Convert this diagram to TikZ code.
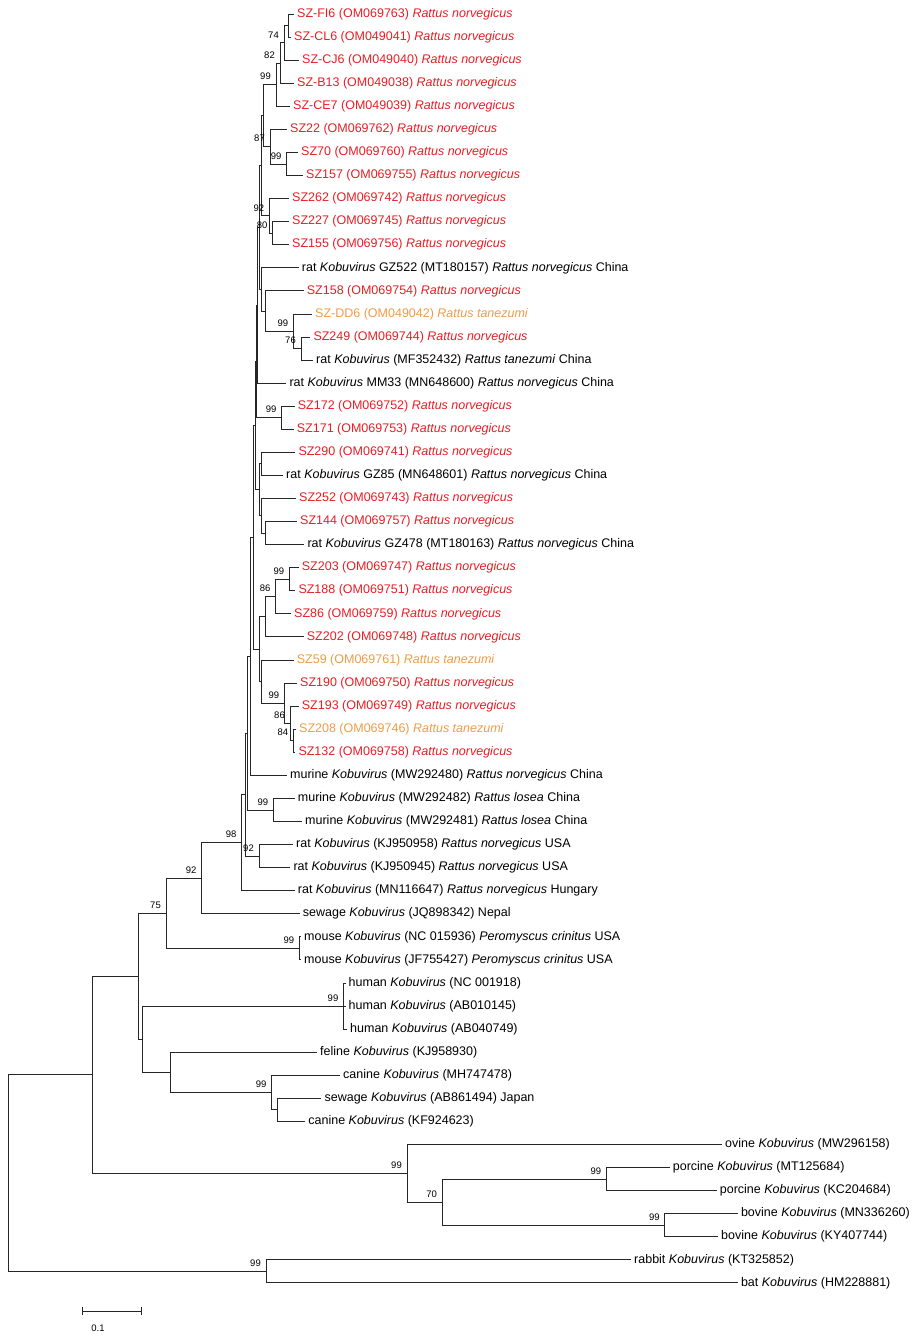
\documentclass[tikz,border=0pt]{standalone}
\usepackage{fontspec}
\setmainfont{Liberation Sans}
\usetikzlibrary{positioning}

\definecolor{szred}{RGB}{230,30,36}
\definecolor{szorange}{RGB}{238,156,72}

\newcommand{\kobu}{\textit{Kobuvirus}}
\newcommand{\rnorv}{\textit{Rattus norvegicus}}
\newcommand{\rtane}{\textit{Rattus tanezumi}}
\newcommand{\rlos}{\textit{Rattus losea}}
\newcommand{\pcrin}{\textit{Peromyscus crinitus}}

\tikzset{
  br/.style={line width=0.8pt, black!85},
  leaf/.style={anchor=west, inner xsep=3pt, inner ysep=0pt, font=\fontsize{12.5}{14}\selectfont},
  szr/.style={leaf, text=szred},
  szo/.style={leaf, text=szorange},
  bs/.style={anchor=south east, inner sep=0pt, xshift=-5pt, yshift=4.5pt, font=\fontsize{9.5}{10}\selectfont},
}

\begin{document}
\begin{tikzpicture}[x=1pt, y=-1pt]
	\useasboundingbox (0,0) rectangle (915,1339);
	
	% leaves
	\node[szr] (fi6)   at (294,14.00)   {SZ-FI6 (OM069763) \rnorv};
	\node[szr] (cl6)   at (291,37.07)   {SZ-CL6 (OM049041) \rnorv};
	\node[szr] (cj6)   at (299,60.14)   {SZ-CJ6 (OM049040) \rnorv};
	\node[szr] (b13)   at (294,83.21)   {SZ-B13 (OM049038) \rnorv};
	\node[szr] (ce7)   at (290,106.28)  {SZ-CE7 (OM049039) \rnorv};
	\node[szr] (sz22)  at (287,129.35)  {SZ22 (OM069762) \rnorv};
	\node[szr] (sz70)  at (298,152.42)  {SZ70 (OM069760) \rnorv};
	\node[szr] (sz157) at (303,175.49)  {SZ157 (OM069755) \rnorv};
	\node[szr] (sz262) at (289,198.56)  {SZ262 (OM069742) \rnorv};
	\node[szr] (sz227) at (289,221.63)  {SZ227 (OM069745) \rnorv};
	\node[szr] (sz155) at (289,244.70)  {SZ155 (OM069756) \rnorv};
	\node[leaf] (gz522) at (298.7,267.77) {rat \kobu{} GZ522 (MT180157) \rnorv{} China};
	\node[szr] (sz158) at (303.7,290.84) {SZ158 (OM069754) \rnorv};
	\node[szo] (dd6)   at (312,313.91)  {SZ-DD6 (OM049042) \rtane};
	\node[szr] (sz249) at (310.3,336.98) {SZ249 (OM069744) \rnorv};
	\node[leaf] (mf352) at (313,360.05)  {rat \kobu{} (MF352432) \rtane{} China};
	\node[leaf] (mm33) at (286.3,383.12) {rat \kobu{} MM33 (MN648600) \rnorv{} China};
	\node[szr] (sz172) at (294.7,406.19) {SZ172 (OM069752) \rnorv};
	\node[szr] (sz171) at (293.7,429.26) {SZ171 (OM069753) \rnorv};
	\node[szr] (sz290) at (295.3,452.33) {SZ290 (OM069741) \rnorv};
	\node[leaf] (gz85) at (283,475.40)   {rat \kobu{} GZ85 (MN648601) \rnorv{} China};
	\node[szr] (sz252) at (296,498.47)  {SZ252 (OM069743) \rnorv};
	\node[szr] (sz144) at (297,521.54)  {SZ144 (OM069757) \rnorv};
	\node[leaf] (gz478) at (304.3,544.61) {rat \kobu{} GZ478 (MT180163) \rnorv{} China};
	\node[szr] (sz203) at (298.7,567.68) {SZ203 (OM069747) \rnorv};
	\node[szr] (sz188) at (295.3,590.75) {SZ188 (OM069751) \rnorv};
	\node[szr] (sz86)  at (291,613.82)  {SZ86 (OM069759) \rnorv};
	\node[szr] (sz202) at (303.7,636.89) {SZ202 (OM069748) \rnorv};
	\node[szo] (sz59)  at (293.7,659.96) {SZ59 (OM069761) \rtane};
	\node[szr] (sz190) at (297,683.03)  {SZ190 (OM069750) \rnorv};
	\node[szr] (sz193) at (298.7,706.10) {SZ193 (OM069749) \rnorv};
	\node[szo] (sz208) at (296,729.17)  {SZ208 (OM069746) \rtane};
	\node[szr] (sz132) at (295.3,752.24) {SZ132 (OM069758) \rnorv};
	\node[leaf] (mw480) at (287,775.31)  {murine \kobu{} (MW292480) \rnorv{} China};
	\node[leaf] (mw482) at (294.7,798.38) {murine \kobu{} (MW292482) \rlos{} China};
	\node[leaf] (mw481) at (302,821.45)  {murine \kobu{} (MW292481) \rlos{} China};
	\node[leaf] (kj958) at (293,844.52)  {rat \kobu{} (KJ950958) \rnorv{} USA};
	\node[leaf] (kj945) at (290.3,867.59) {rat \kobu{} (KJ950945) \rnorv{} USA};
	\node[leaf] (mn116) at (294.7,890.66) {rat \kobu{} (MN116647) \rnorv{} Hungary};
	\node[leaf] (jq898) at (299.7,913.73) {sewage \kobu{} (JQ898342) Nepal};
	\node[leaf] (mnc)   at (301,936.80)  {mouse \kobu{} (NC 015936) \pcrin{} USA};
	\node[leaf] (mjf)   at (301,959.87)  {mouse \kobu{} (JF755427) \pcrin{} USA};
	\node[leaf] (hnc)   at (345.5,982.94) {human \kobu{} (NC 001918)};
	\node[leaf] (hab145) at (345.5,1006.01) {human \kobu{} (AB010145)};
	\node[leaf] (hab749) at (347,1029.08) {human \kobu{} (AB040749)};
	\node[leaf] (fel)   at (317,1052.15) {feline \kobu{} (KJ958930)};
	\node[leaf] (canmh) at (340,1075.22) {canine \kobu{} (MH747478)};
	\node[leaf] (sewab) at (321.4,1098.29) {sewage \kobu{} (AB861494) Japan};
	\node[leaf] (cankf) at (305.2,1121.36) {canine \kobu{} (KF924623)};
	\node[leaf] (ovi)   at (722,1144.43) {ovine \kobu{} (MW296158)};
	\node[leaf] (pormt) at (669.7,1167.50) {porcine \kobu{} (MT125684)};
	\node[leaf] (porkc) at (716.7,1190.57) {porcine \kobu{} (KC204684)};
	\node[leaf] (bovmn) at (737.8,1213.64) {bovine \kobu{} (MN336260)};
	\node[leaf] (bovky) at (718,1236.71) {bovine \kobu{} (KY407744)};
	\node[leaf] (rab)   at (631,1259.78) {rabbit \kobu{} (KT325852)};
	\node[leaf] (bat)   at (737.8,1282.85) {bat \kobu{} (HM228881)};
	
	% internal nodes
	\coordinate (nA1) at (288,25.54);
	\coordinate (nA2) at (284,42.84);
	\coordinate (nA3) at (280,63.03);
	\coordinate (nA4) at (276,84.65);
	\coordinate (nB1) at (286.7,163.96);
	\coordinate (nB2) at (270,146.65);
	\coordinate (nC1) at (272.7,233.17);
	\coordinate (nC2) at (269.3,215.86);
	\coordinate (nD1) at (301,348.52);
	\coordinate (nD2) at (293.3,331.21);
	\coordinate (nD3) at (265,311.03);
	\coordinate (nD4) at (261.5,289.40);
	\coordinate (nE1) at (281.7,417.73);
	\coordinate (nF1) at (261.7,463.87);
	\coordinate (nF2) at (265,533.08);
	\coordinate (nF3) at (261.7,515.78);
	\coordinate (nF4) at (259,489.82);
	\coordinate (nG1) at (289.3,579.22);
	\coordinate (nG2) at (275.7,596.52);
	\coordinate (nG3) at (265,616.71);
	\coordinate (nH1) at (293.3,740.71);
	\coordinate (nH2) at (290,723.41);
	\coordinate (nH3) at (284.3,703.22);
	\coordinate (nG4) at (261.5,681.59);
	\coordinate (nG5) at (259.5,649.15);
	\coordinate (nI1) at (273.3,809.92);
	\coordinate (nJ1) at (259,856.06);
	\coordinate (L1)  at (263,115.65);
	\coordinate (L2)  at (261.5,165.76);
	\coordinate (L3)  at (259.5,227.58);
	\coordinate (L4)  at (257.5,305.35);
	\coordinate (L5)  at (256.5,361.54);
	\coordinate (L6)  at (255.5,425.68);
	\coordinate (L7)  at (253.5,537.42);
	\coordinate (L8)  at (250.7,656.37);
	\coordinate (L9)  at (247.3,733.15);
	\coordinate (L10) at (245,794.61);
	\coordinate (n98) at (241.7,842.64);
	\coordinate (n92) at (201.7,878.19);
	\coordinate (nM)  at (299.3,948.34);
	\coordinate (n75) at (166,913.27);
	\coordinate (nHu) at (343.5,1006.01);
	\coordinate (nSe) at (277.4,1109.83);
	\coordinate (nCa) at (271.7,1092.53);
	\coordinate (nFe) at (170,1072.34);
	\coordinate (nHF) at (142.7,1039.18);
	\coordinate (n138) at (138,976.23);
	\coordinate (nPo) at (606.4,1179.04);
	\coordinate (nBo) at (664.8,1225.18);
	\coordinate (n70) at (442.1,1202.11);
	\coordinate (nOv) at (407,1173.27);
	\coordinate (nR1) at (92,1074.75);
	\coordinate (nRb) at (266,1271.32);
	\coordinate (root) at (8,1173.04);
	
	% branches
	\foreach \p/\c in {nA1/fi6.west, nA1/cl6.west, nA2/nA1, nA2/cj6.west, nA3/nA2, nA3/b13.west,
		nA4/nA3, nA4/ce7.west, nB1/sz70.west, nB1/sz157.west, nB2/sz22.west, nB2/nB1,
		nC1/sz227.west, nC1/sz155.west, nC2/sz262.west, nC2/nC1, L1/nA4, L1/nB2, L2/L1, L2/nC2,
		nD1/sz249.west, nD1/mf352.west, nD2/dd6.west, nD2/nD1, nD3/sz158.west, nD3/nD2,
		nD4/gz522.west, nD4/nD3, L3/L2, L3/nD4, L4/L3, L4/mm33.west,
		nE1/sz172.west, nE1/sz171.west, L5/L4, L5/nE1,
		nF1/sz290.west, nF1/gz85.west, nF2/sz144.west, nF2/gz478.west, nF3/sz252.west, nF3/nF2,
		nF4/nF1, nF4/nF3, L6/L5, L6/nF4,
		nG1/sz203.west, nG1/sz188.west, nG2/nG1, nG2/sz86.west, nG3/nG2, nG3/sz202.west,
		nH1/sz208.west, nH1/sz132.west, nH2/sz193.west, nH2/nH1, nH3/sz190.west, nH3/nH2,
		nG4/sz59.west, nG4/nH3, nG5/nG3, nG5/nG4,
		L7/L6, L7/nG5, L8/L7, L8/mw480.west, nI1/mw482.west, nI1/mw481.west, L9/L8, L9/nI1,
		nJ1/kj958.west, nJ1/kj945.west, L10/L9, L10/nJ1, n98/L10, n98/mn116.west,
		n92/n98, n92/jq898.west, nM/mnc.west, nM/mjf.west, n75/n92, n75/nM,
		nHu/hnc.west, nHu/hab145.west, nHu/hab749.west,
		nSe/sewab.west, nSe/cankf.west, nCa/canmh.west, nCa/nSe, nFe/fel.west, nFe/nCa,
		nHF/nHu, nHF/nFe, n138/n75, n138/nHF,
		nPo/pormt.west, nPo/porkc.west, nBo/bovmn.west, nBo/bovky.west, n70/nPo, n70/nBo,
		nOv/ovi.west, nOv/n70, nR1/n138, nR1/nOv, nRb/rab.west, nRb/bat.west,
		root/nR1, root/nRb}
		\draw[br] (\p) |- (\c);
	
	% bootstrap values
	\node[bs] (bA2) at (nA2) {74};
	\node[bs] (bA3) at (nA3) {82};
	\node[bs] (bA4) at (nA4) {99};
	\node[bs] (bB1) at (nB1) {99};
	\node[bs] (bB2) at (nB2) {87};
	\node[bs] (bC1) at (nC1) {80};
	\node[bs] (bC2) at (nC2) {92};
	\node[bs] (bD1) at (nD1) {76};
	\node[bs] (bD2) at (nD2) {99};
	\node[bs] (bE1) at (nE1) {99};
	\node[bs] (bG1) at (nG1) {99};
	\node[bs] (bG2) at (nG2) {86};
	\node[bs] (bH1) at (nH1) {84};
	\node[bs] (bH2) at (nH2) {86};
	\node[bs] (bH3) at (nH3) {99};
	\node[bs] (bI1) at (nI1) {99};
	\node[bs] (bJ1) at (nJ1) {92};
	\node[bs] (b98) at (n98) {98};
	\node[bs] (b92) at (n92) {92};
	\node[bs] (b75) at (n75) {75};
	\node[bs] (bM)  at (nM)  {99};
	\node[bs] (bHu) at (nHu) {99};
	\node[bs] (bCa) at (nCa) {99};
	\node[bs] (bOv) at (nOv) {99};
	\node[bs] (b70) at (n70) {70};
	\node[bs] (bPo) at (nPo) {99};
	\node[bs] (bBo) at (nBo) {99};
	\node[bs] (bRb) at (nRb) {99};
	
	% scale bar
	\coordinate (sbl) at (82,1311);
	\coordinate (sbr) at (141,1311);
	\draw[br] (sbl) -- (sbr);
	\draw[br] ([yshift=-4pt]sbl) -- ([yshift=4pt]sbl);
	\draw[br] ([yshift=-4pt]sbr) -- ([yshift=4pt]sbr);
	\node[font=\fontsize{9.5}{10}\selectfont] (sblab) at (98,1328) {0.1};
	
\end{tikzpicture}
\end{document}
